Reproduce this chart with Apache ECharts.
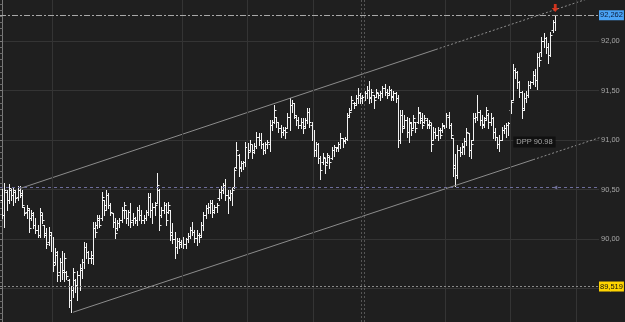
<!DOCTYPE html>
<html><head><meta charset="utf-8">
<script src="https://cdn.jsdelivr.net/npm/echarts@6/dist/echarts.min.js"></script>
<style>html,body{margin:0;padding:0;background:#1f1f1f}#c{width:625px;height:322px}</style>
</head><body><div id="c"></div>
<script>
const opens = [
90.39,90.24,90.47,90.39,90.49,90.44,90.47,90.42,90.49,90.46,
90.32,90.27,90.29,90.21,90.24,90.14,90.09,90.04,90.24,90.14,
90.06,89.96,90.04,89.94,89.76,89.83,89.66,89.76,89.68,89.66,
89.58,89.38,89.48,89.58,89.53,89.63,89.68,89.76,89.91,89.86,
89.80,89.80,90.11,90.14,90.19,90.21,90.39,90.34,90.44,90.34,
90.26,90.17,90.11,90.16,90.19,90.29,90.29,90.21,90.27,90.19,
90.21,90.19,90.29,90.24,90.19,90.21,90.27,90.42,90.29,90.32,
90.36,90.49,90.24,90.29,90.34,90.27,90.29,90.07,89.99,89.91,
89.97,89.96,89.97,89.94,89.99,90.03,90.09,90.07,90.01,90.04,
90.04,90.14,90.24,90.31,90.32,90.36,90.29,90.32,90.41,90.47,
90.49,90.54,90.44,90.42,90.46,90.52,90.72,90.84,90.72,90.76,
90.77,90.92,90.89,90.95,90.89,90.93,91.03,91.00,90.95,90.89,
90.95,90.95,91.15,91.18,91.23,91.18,91.12,91.08,91.10,91.12,
91.23,91.35,91.37,91.23,91.20,91.15,91.18,91.14,91.20,91.28,
91.15,91.05,90.89,90.95,90.81,90.77,90.81,90.77,90.82,90.81,
90.89,90.92,90.92,90.95,91.02,91.00,91.01,91.25,91.30,91.37,
91.37,91.42,91.45,91.42,91.43,91.47,91.50,91.43,91.45,91.43,
91.47,91.45,91.47,91.52,91.48,91.47,91.50,91.44,91.47,91.42,
91.00,91.25,91.14,91.20,91.08,91.17,91.12,91.18,91.18,91.27,
91.22,91.18,91.20,91.16,91.15,91.00,91.08,91.05,91.10,91.10,
91.14,91.15,91.23,91.15,91.02,90.74,90.64,90.89,90.87,90.92,
90.98,91.07,90.89,91.00,91.22,91.23,91.28,91.20,91.16,91.22,
91.25,91.18,91.22,91.08,91.03,90.95,91.00,91.10,91.12,91.15,
91.30,91.40,91.70,91.68,91.58,91.48,91.32,91.42,91.45,91.55,
91.58,91.65,91.60,91.83,91.88,91.99,92.03,91.93,91.85,92.11,
92.19];
const highs = [
90.51,90.57,90.49,90.56,90.51,90.52,90.49,90.54,90.54,90.49,
90.32,90.34,90.31,90.29,90.27,90.21,90.14,90.31,90.26,90.14,
90.11,90.12,90.07,90.02,89.91,89.88,89.81,89.88,89.86,89.68,
89.60,89.53,89.71,89.60,89.68,89.75,89.80,89.97,89.96,89.88,
89.88,90.17,90.17,90.24,90.24,90.47,90.39,90.49,90.46,90.36,
90.26,90.21,90.19,90.21,90.32,90.37,90.29,90.29,90.36,90.26,
90.22,90.32,90.34,90.29,90.24,90.29,90.46,90.46,90.36,90.37,
90.67,90.51,90.32,90.37,90.36,90.37,90.29,90.16,90.07,90.01,
90.01,89.99,90.02,90.01,90.06,90.12,90.17,90.09,90.09,90.06,
90.17,90.27,90.34,90.36,90.39,90.39,90.34,90.36,90.51,90.54,
90.57,90.61,90.49,90.49,90.52,90.72,90.98,90.86,90.79,90.79,
90.98,90.97,91.00,90.95,90.97,91.08,91.07,91.07,90.97,90.98,
91.00,91.20,91.20,91.35,91.23,91.18,91.15,91.13,91.13,91.27,
91.42,91.40,91.37,91.25,91.23,91.22,91.22,91.22,91.32,91.32,
91.18,91.10,90.98,90.97,90.84,90.87,90.82,90.87,90.84,90.93,
90.95,90.93,90.98,91.07,91.02,91.03,91.27,91.32,91.44,91.38,
91.45,91.53,91.47,91.45,91.50,91.55,91.60,91.52,91.45,91.52,
91.47,91.50,91.55,91.57,91.52,91.55,91.52,91.50,91.48,91.45,
91.30,91.30,91.25,91.23,91.22,91.18,91.25,91.18,91.33,91.28,
91.27,91.25,91.22,91.20,91.17,91.13,91.12,91.13,91.12,91.17,
91.15,91.27,91.28,91.17,91.02,90.86,90.95,90.93,90.97,91.02,
91.12,91.07,91.00,91.27,91.27,91.45,91.30,91.25,91.23,91.33,
91.27,91.27,91.23,91.12,91.03,91.05,91.13,91.15,91.17,91.18,
91.40,91.77,91.73,91.70,91.60,91.50,91.47,91.50,91.60,91.60,
91.70,91.72,91.88,91.88,92.04,92.08,92.04,91.98,92.09,92.21,
92.262];
const lows = [
90.21,90.12,90.29,90.36,90.39,90.34,90.37,90.39,90.42,90.32,
90.24,90.21,90.07,90.19,90.11,90.06,90.02,90.02,90.16,90.02,
89.91,89.94,89.88,89.68,89.75,89.58,89.58,89.60,89.58,89.60,
89.31,89.26,89.41,89.46,89.38,89.48,89.61,89.71,89.81,89.76,
89.76,89.75,90.02,90.11,90.12,90.19,90.24,90.29,90.31,90.24,
90.12,90.01,90.09,90.12,90.17,90.21,90.16,90.14,90.12,90.14,
90.16,90.14,90.19,90.16,90.16,90.19,90.24,90.22,90.16,90.24,
90.36,90.09,90.22,90.26,90.14,90.26,89.99,89.96,89.81,89.86,
89.91,89.92,89.91,89.91,89.97,90.01,90.04,89.97,89.94,89.97,
90.02,90.09,90.21,90.26,90.26,90.22,90.26,90.27,90.39,90.41,
90.46,90.39,90.26,90.39,90.34,90.52,90.72,90.64,90.69,90.71,
90.74,90.82,90.89,90.82,90.87,90.92,90.95,90.92,90.86,90.87,
90.92,90.89,91.10,91.17,91.13,91.08,91.03,91.05,91.02,91.12,
91.10,91.28,91.22,91.15,91.12,91.12,91.07,91.12,91.17,91.13,
91.00,90.84,90.84,90.77,90.61,90.76,90.67,90.77,90.72,90.81,
90.84,90.89,90.89,90.92,90.93,90.97,91.00,91.23,91.30,91.32,
91.35,91.37,91.37,91.37,91.40,91.42,91.37,91.38,91.32,91.43,
91.42,91.40,91.43,91.45,91.42,91.45,91.40,91.40,91.38,90.93,
90.97,91.08,91.12,91.03,90.98,91.05,91.12,91.08,91.17,91.17,
91.12,91.17,91.12,91.12,90.89,91.00,91.02,91.00,91.02,91.08,
91.12,91.13,91.12,91.02,90.64,90.54,90.62,90.84,90.86,90.86,
90.95,90.84,90.82,91.00,91.18,91.20,91.15,91.12,91.13,91.20,
91.12,91.15,91.02,91.00,90.92,90.89,91.00,91.07,91.03,91.05,
91.27,91.40,91.63,91.53,91.43,91.22,91.30,91.38,91.43,91.53,
91.57,91.55,91.52,91.75,91.85,91.94,91.88,91.78,91.85,92.09,
92.11];
const closes = [
90.24,90.49,90.39,90.51,90.44,90.49,90.41,90.49,90.44,90.34,
90.26,90.31,90.11,90.26,90.14,90.09,90.04,90.27,90.19,90.04,
89.94,90.07,89.91,89.73,89.86,89.63,89.76,89.66,89.80,89.62,
89.38,89.48,89.66,89.53,89.63,89.70,89.76,89.91,89.86,89.80,
89.83,90.11,90.07,90.21,90.14,90.42,90.29,90.44,90.34,90.27,
90.17,90.06,90.16,90.19,90.29,90.34,90.21,90.27,90.17,90.21,
90.19,90.29,90.24,90.19,90.21,90.27,90.42,90.29,90.32,90.34,
90.54,90.14,90.29,90.34,90.19,90.34,90.04,89.99,89.91,89.97,
89.94,89.97,89.94,89.99,90.03,90.09,90.07,90.01,90.04,90.02,
90.14,90.24,90.31,90.32,90.36,90.27,90.32,90.34,90.47,90.49,
90.54,90.44,90.41,90.46,90.49,90.69,90.89,90.71,90.76,90.77,
90.92,90.87,90.95,90.87,90.93,91.03,91.00,90.95,90.89,90.95,
90.97,91.15,91.18,91.30,91.18,91.12,91.08,91.10,91.08,91.23,
91.35,91.37,91.25,91.20,91.15,91.18,91.12,91.20,91.28,91.18,
91.05,90.89,90.95,90.81,90.69,90.82,90.74,90.84,90.77,90.89,
90.92,90.91,90.95,91.02,90.98,91.01,91.23,91.28,91.40,91.35,
91.42,91.45,91.42,91.43,91.47,91.50,91.42,91.48,91.40,91.48,
91.45,91.47,91.52,91.48,91.45,91.50,91.43,91.47,91.42,91.00,
91.25,91.12,91.20,91.08,91.18,91.10,91.22,91.12,91.28,91.20,
91.15,91.22,91.15,91.18,90.95,91.08,91.05,91.10,91.05,91.15,
91.13,91.25,91.15,91.05,90.71,90.64,90.89,90.87,90.93,90.98,
91.08,90.89,90.95,91.22,91.23,91.28,91.20,91.15,91.20,91.30,
91.18,91.22,91.08,91.03,90.95,91.00,91.10,91.12,91.15,91.17,
91.38,91.70,91.68,91.58,91.48,91.30,91.42,91.45,91.55,91.58,
91.65,91.60,91.83,91.80,91.99,92.03,91.93,91.85,92.06,92.19,
92.262];

// price axis
const yMin = 89.0, yMax = 92.5, yInterval = 0.5;
// reference price lines
const lastPrice = 92.262;
const refLowPrice = 89.519;
const pivotPrice = 90.52;
const dppPrice = 90.98;
// bar-index positions of vertical grid / session lines
const gridBars = [22.3, 81.1, 110.5, 140.4, 200.1, 229.5, 259.4];
const sessionBars = [162.3, 163.8];
// trend channel (bar index, price)
const upperSolid = [[7.8, 90.51], [196, 91.914]];
const upperDotted = [[196, 91.914], [266, 92.436]];
const lowerSolid = [[31.8, 89.26], [240, 90.801]];
const lowerDotted = [[240, 90.801], [270, 91.023]];

const fmt = v => v.toFixed(2).replace('.', ',');
const fmt3 = v => v.toFixed(3).replace('.', ',');
const ohlc = opens.map((o, i) => [i, o, highs[i], lows[i], closes[i]]);
const lastIdx = ohlc.length - 1;
const FONT = "'Liberation Sans', Arial, sans-serif";
const snap = v => Math.round(v - 0.5) + 0.5;

const chart = echarts.init(document.getElementById('c'), null, {renderer: 'canvas'});
const barColor = '#f2f2f2';
const chanColor = '#8c8c8c';
chart.setOption({
  backgroundColor: '#1f1f1f',
  animation: false,
  grid: {left: 0, right: 26, top: -8.5, height: 346.5, outerBoundsMode: 'none', containLabel: false},
  xAxis: {type: 'value', min: -1.22, max: 269.8, show: false},
  yAxis: {
    type: 'value', position: 'right', min: yMin, max: yMax, interval: yInterval,
    axisLine: {show: true, lineStyle: {color: '#7a7a7a', width: 1}},
    axisTick: {show: true, inside: true, length: 8, lineStyle: {color: '#7a7a7a'}},
    minorTick: {show: true, splitNumber: 8, length: 4, lineStyle: {color: '#6a6a6a'}},
    splitLine: {show: true, lineStyle: {color: '#343434', width: 1}},
    axisLabel: {color: '#a8a8a8', fontSize: 7.5, fontFamily: FONT, margin: 2, formatter: fmt}
  },
  series: [
    {
      type: 'line', data: [], z: 1, silent: true,
      markLine: {
        silent: true, symbol: ['none', 'none'], animation: false,
        label: {show: false},
        data: gridBars.map(b => ({xAxis: b, lineStyle: {color: '#343434', type: 'solid', width: 1}}))
          .concat(sessionBars.map(b => ({xAxis: b, lineStyle: {color: '#555555', type: [2, 2], width: 1}})))
      }
    },
    {
      type: 'custom', z: 3, data: ohlc, clip: true, silent: true,
      encode: {x: 0, y: [1, 2, 3, 4]},
      renderItem(params, api) {
        const x = api.value(0);
        const o = api.coord([x, api.value(1)]);
        const h = api.coord([x, api.value(2)]);
        const l = api.coord([x, api.value(3)]);
        const c = api.coord([x, api.value(4)]);
        const px = snap(h[0]);
        const oy = snap(o[1]), cy = snap(c[1]);
        const st = {stroke: barColor, lineWidth: 1};
        return {type: 'group', children: [
          {type: 'line', shape: {x1: px, y1: Math.round(h[1]), x2: px, y2: Math.round(l[1]) + 1}, style: st},
          {type: 'line', shape: {x1: px - 2, y1: oy, x2: px, y2: oy}, style: st},
          {type: 'line', shape: {x1: px, y1: cy, x2: px + 2, y2: cy}, style: st}
        ]};
      },
      markLine: {
        silent: true, symbol: ['none', 'none'], animation: false, z: 10,
        data: [
          {yAxis: lastPrice, lineStyle: {color: '#a8a8a8', type: [6, 2, 2, 2], width: 1},
           label: {show: true, position: 'end', distance: 0, formatter: fmt3(lastPrice),
                   backgroundColor: '#4aa3f5', color: '#0b1c3a', fontSize: 7.5, fontFamily: FONT,
                   padding: [1, 1, 0, 1], lineHeight: 9}},
          {yAxis: refLowPrice, lineStyle: {color: '#8a8a8a', type: [2, 2], width: 1},
           label: {show: true, position: 'end', distance: 0, formatter: fmt3(refLowPrice),
                   backgroundColor: '#ffd400', color: '#111111', fontSize: 7.5, fontFamily: FONT,
                   padding: [1, 1, 0, 1], lineHeight: 9}},
          {yAxis: pivotPrice, lineStyle: {color: '#6e6e9c', type: [3, 3], width: 1},
           label: {show: false}}
        ]
      }
    },
    {type: 'line', data: upperSolid, symbol: 'none', z: 4, silent: true,
     lineStyle: {color: chanColor, width: 1}},
    {type: 'line', data: upperDotted, symbol: 'none', z: 4, silent: true,
     lineStyle: {color: chanColor, width: 1, type: [2, 2]}},
    {type: 'line', data: lowerSolid, symbol: 'none', z: 4, silent: true,
     lineStyle: {color: chanColor, width: 1}},
    {type: 'line', data: lowerDotted, symbol: 'none', z: 4, silent: true,
     lineStyle: {color: chanColor, width: 1, type: [2, 2]}},
    {
      type: 'scatter', z: 8, silent: true,
      data: [[240.6, dppPrice]], symbol: 'rect', symbolSize: [1, 1],
      itemStyle: {color: 'rgba(0,0,0,0)'},
      label: {show: true, position: 'inside', formatter: 'DPP ' + dppPrice.toFixed(2),
              backgroundColor: '#0c0c0c', color: '#c8c8c8', fontSize: 7.5, fontFamily: FONT,
              padding: [2, 3, 1, 3]}
    },
    {
      type: 'scatter', z: 9, silent: true,
      data: [[lastIdx, highs[lastIdx]]],
      symbol: 'path://M3,0H7V5H10L5,10L0,5H3Z', symbolSize: [7, 8], symbolOffset: [0, -7],
      itemStyle: {color: '#ff3a1e'}
    },
    {
      type: 'scatter', z: 9, silent: true,
      data: [[250, pivotPrice]], symbol: 'triangle', symbolRotate: 90, symbolSize: 4,
      itemStyle: {color: '#8585b5'}
    }
  ]
});
</script>
</body></html>
